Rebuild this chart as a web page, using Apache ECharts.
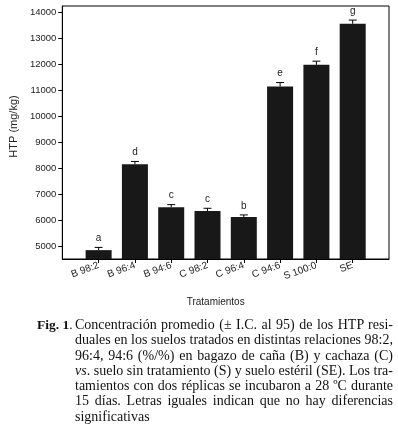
<!DOCTYPE html>
<html>
<head>
<meta charset="utf-8">
<style>
body { margin: 0; background: #fff; }
#wrap { position: relative; width: 398px; height: 436px; }
#container { position: absolute; left: 0; top: 0; width: 398px; height: 436px; }
#caption { position: absolute; left: 37px; top: 317px; width: 357px; display: flex;
  font-family: "Liberation Serif", "DejaVu Serif", serif; font-size: 14px; line-height: 15.3px; color: #111; }
#caption .fig { width: 38px; flex: none; font-weight: bold; font-size: 13.5px; }
#caption .txt { width: 318px; flex: none; }
#caption .ln { white-space: nowrap; text-align: justify; text-align-last: justify; }
#caption .ln.last { text-align-last: left; }
</style>
</head>
<body>
<div id="wrap">
  <div id="container"></div>
  <div id="caption">
    <div class="fig">Fig. 1<span style="font-weight:normal">.</span></div>
    <div class="txt">
      <div class="ln">Concentración promedio (± I.C. al 95) de los HTP resi-</div>
      <div class="ln">duales en los suelos tratados en distintas relaciones 98:2,</div>
      <div class="ln">96:4, 94:6 (%/%) en bagazo de caña (B) y cachaza (C)</div>
      <div class="ln"><i>vs</i>. suelo sin tratamiento (S) y suelo estéril (SE). Los tra-</div>
      <div class="ln">tamientos con dos réplicas se incubaron a 28 ºC durante</div>
      <div class="ln">15 días. Letras iguales indican que no hay diferencias</div>
      <div class="ln last">significativas</div>
    </div>
  </div>
</div>
<script src="https://cdn.jsdelivr.net/npm/echarts@6/dist/echarts.min.js"></script>
<script type="text/javascript">
var categories = ['B 98:2', 'B 96:4', 'B 94:6', 'C 98:2', 'C 96:4', 'C 94:6', 'S 100:0', 'SE'];
var means = [4870, 8165, 6515, 6370, 6140, 11140, 11975, 13550];
var upper = [4975, 8270, 6615, 6475, 6220, 11295, 12115, 13690];
var letters = ['a', 'd', 'c', 'c', 'b', 'e', 'f', 'g'];
var yTicks = [5000, 6000, 7000, 8000, 9000, 10000, 11000, 12000, 13000, 14000];

// empty slot at each end so the bars sit one step in from the frame
var axisCats = [''].concat(categories, ['']);
var barData = ['-'].concat(means, ['-']);
var errData = categories.map(function (c, i) { return [i + 1, means[i], upper[i], letters[i]]; });

var dom = document.getElementById('container');
var myChart = echarts.init(dom);
var option = {
    animation: false,
    grid: { left: 59, right: 9, top: 6, bottom: 177, show: true, borderColor: '#000', borderWidth: 1 },
    xAxis: {
        type: 'category',
        data: axisCats,
        boundaryGap: false,
        name: 'Tratamientos',
        nameLocation: 'middle',
        nameGap: 38,
        nameTextStyle: { fontFamily: 'Liberation Sans', fontSize: 10, color: '#222', padding: [0, 20, 0, 0] },
        axisLine: { lineStyle: { color: '#000', width: 1 } },
        axisTick: { length: 4, lineStyle: { color: '#000' }, interval: function (i) { return i > 0 && i < axisCats.length - 1; } },
        axisLabel: { rotate: 20, margin: 6, interval: 0, fontFamily: 'Liberation Sans', fontSize: 10, color: '#222' },
        splitLine: { show: false }
    },
    yAxis: {
        type: 'value',
        min: 4530,
        max: 14230,
        name: 'HTP (mg/kg)',
        nameLocation: 'middle',
        nameGap: 41,
        nameTextStyle: { fontFamily: 'Liberation Sans', fontSize: 11, color: '#222', padding: [0, 0, 0, 12] },
        axisLine: { show: true, lineStyle: { color: '#000', width: 1 } },
        axisTick: { show: true, length: 4, customValues: yTicks, lineStyle: { color: '#000' } },
        axisLabel: { customValues: yTicks, margin: 6, fontFamily: 'Liberation Sans', fontSize: 9.5, color: '#222',
            formatter: function (v) { return String(v); } },
        splitLine: { show: false }
    },
    series: [
        {
            type: 'bar',
            data: barData,
            barWidth: 26,
            itemStyle: { color: '#181818' }
        },
        {
            type: 'custom',
            data: errData,
            z: 5,
            renderItem: function (params, api) {
                var top = api.coord([api.value(0), api.value(2)]);
                var base = api.coord([api.value(0), api.value(1)]);
                var hw = 4;
                return {
                    type: 'group',
                    children: [
                        { type: 'line', shape: { x1: top[0], y1: base[1], x2: top[0], y2: top[1] }, style: { stroke: '#000', lineWidth: 1 } },
                        { type: 'line', shape: { x1: top[0] - hw, y1: top[1], x2: top[0] + hw, y2: top[1] }, style: { stroke: '#000', lineWidth: 1 } },
                        { type: 'text', style: { text: api.value(3), x: top[0], y: top[1] - 4, align: 'center', verticalAlign: 'bottom',
                            fontFamily: 'Liberation Sans', fontSize: 10, fill: '#222' } }
                    ]
                };
            }
        }
    ]
};
myChart.setOption(option, true);
</script>
</body>
</html>
